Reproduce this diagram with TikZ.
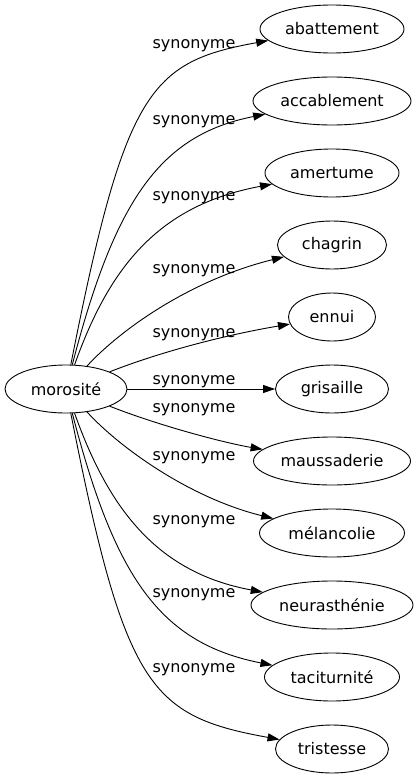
\documentclass[tikz,border=0pt]{standalone}
\usepackage{fontspec}
\setmainfont{DejaVu Sans}
\usetikzlibrary{shapes.geometric,arrows.meta}
\begin{document}
\begin{tikzpicture}[x=1pt,y=-1pt,
  word/.style={ellipse,draw,line width=0.9pt,minimum height=48pt,inner sep=0pt,font=\fontsize{16}{19}\selectfont},
  rel/.style={font=\fontsize{16}{19}\selectfont,anchor=base,inner sep=0pt},
  link/.style={draw,line width=0.9pt,-{Triangle[length=12pt,width=8pt]}}]
\useasboundingbox (0,0) rectangle (418,779);
\node[word,minimum width=122pt] (mor) at (66,389) {morosité};
\node[word,minimum width=144pt] (abt) at (332,29) {abattement};
\node[word,minimum width=158pt] (acc) at (332,101) {accablement};
\node[word,minimum width=134pt] (ame) at (332,173) {amertume};
\node[word,minimum width=109pt] (cha) at (332,245) {chagrin};
\node[word,minimum width=87pt] (enn) at (332,317) {ennui};
\node[word,minimum width=113pt] (gri) at (332,389) {grisaille};
\node[word,minimum width=157pt] (mau) at (332,461) {maussaderie};
\node[word,minimum width=145pt] (mel) at (332,533) {mélancolie};
\node[word,minimum width=162pt] (neu) at (332,605) {neurasthénie};
\node[word,minimum width=135pt] (tac) at (332,677) {taciturnité};
\node[word,minimum width=113pt] (tri) at (332,749) {tristesse};

\draw[link] (mor) .. controls (125,90) and (150,62) .. (abt);
\draw[link] (mor) .. controls (115,200) and (160,135) .. (acc);
\draw[link] (mor) .. controls (110,265) and (160,205) .. (ame);
\draw[link] (mor) .. controls (120,330) and (190,280) .. (cha);
\draw[link] (mor) .. controls (160,352) and (225,335) .. (enn);
\draw[link] (mor) -- (gri);
\draw[link] (mor) .. controls (160,426) and (225,443) .. (mau);
\draw[link] (mor) .. controls (120,448) and (190,498) .. (mel);
\draw[link] (mor) .. controls (110,513) and (160,573) .. (neu);
\draw[link] (mor) .. controls (115,578) and (160,643) .. (tac);
\draw[link] (mor) .. controls (125,688) and (150,716) .. (tri);

\node[rel] (l1) at (194,48) {synonyme};
\node[rel] (l2) at (194,124) {synonyme};
\node[rel] (l3) at (194,200) {synonyme};
\node[rel] (l4) at (194,273) {synonyme};
\node[rel] (l5) at (194,337) {synonyme};
\node[rel] (l6) at (194,384) {synonyme};
\node[rel] (l7) at (194,412) {synonyme};
\node[rel] (l8) at (194,460) {synonyme};
\node[rel] (l9) at (194,524) {synonyme};
\node[rel] (l10) at (194,597) {synonyme};
\node[rel] (l11) at (194,672) {synonyme};
\end{tikzpicture}
\end{document}
